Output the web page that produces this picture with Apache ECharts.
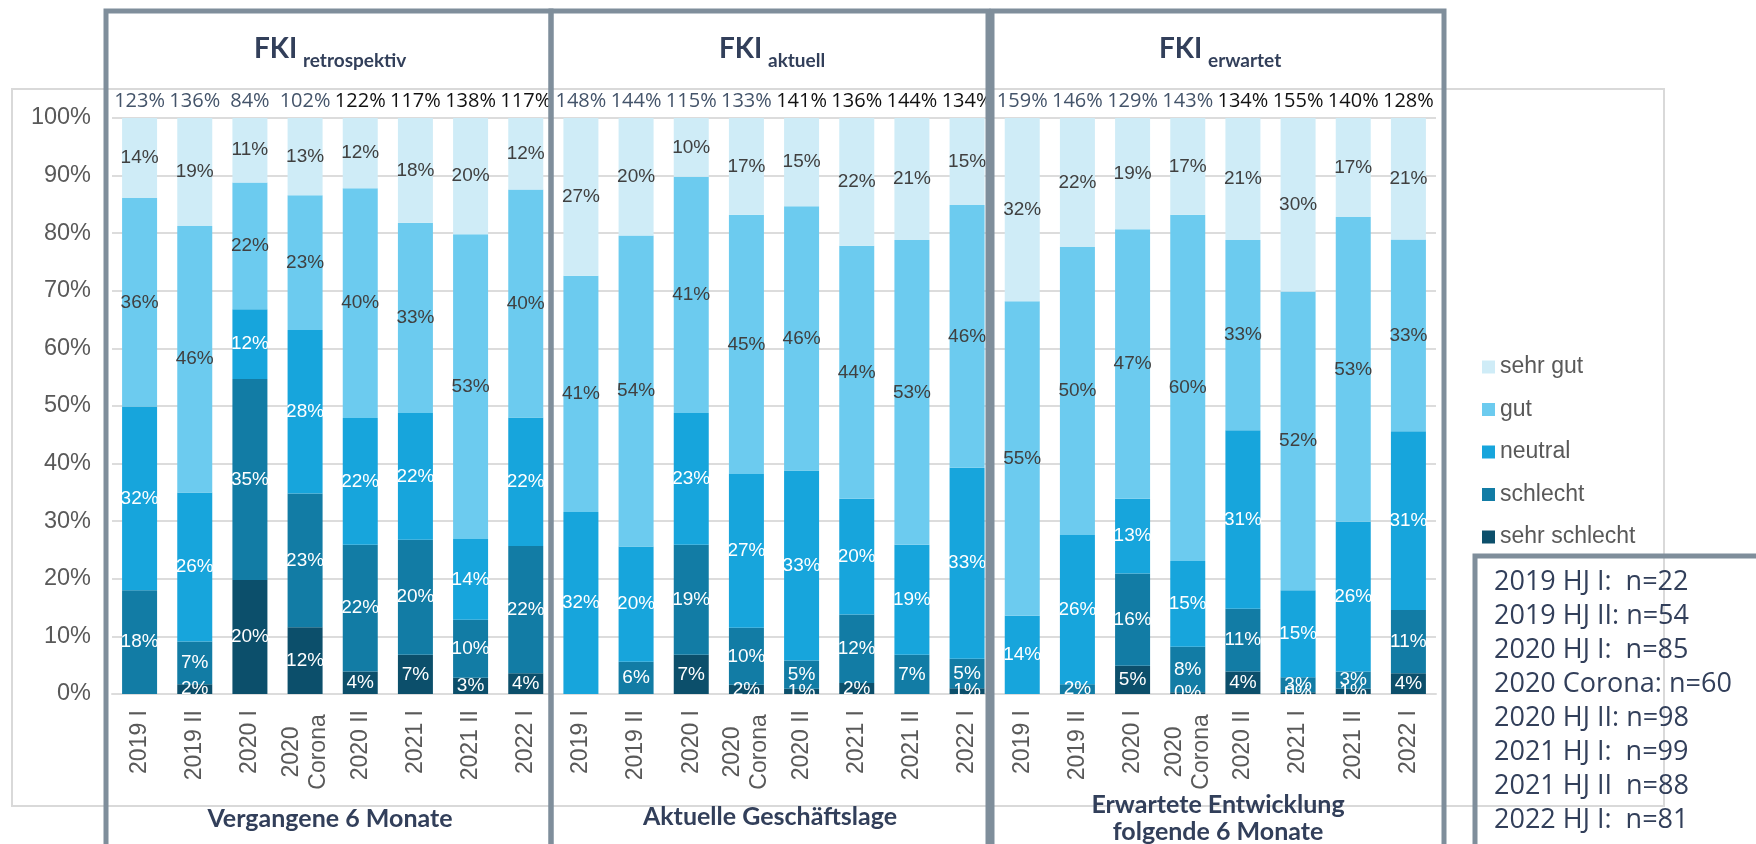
<!DOCTYPE html>
<html>
<head>
<meta charset="utf-8">
<script src="https://cdn.jsdelivr.net/npm/echarts/dist/echarts.min.js"></script>
<style>
  html, body { margin: 0; padding: 0; background: #fff; }
  #chart { width: 1756px; height: 844px; }
</style>
</head>
<body>
<div id="chart"></div>
<script>
// periods, repeated for each of the three panels
const periods = ['2019 I', '2019 II', '2020 I', '2020\nCorona', '2020 II', '2021 I', '2021 II', '2022 I']
const categories = [...periods, ...periods, ...periods]

// shares per answer (retrospektiv | aktuell | erwartet), percent
const sehrSchlecht = [0, 1.7, 19.8, 11.6, 3.9, 6.8, 2.8, 3.6,
  0, 0, 6.8, 1.6, 0.9, 1.9, 0, 1.0,
  0, 0, 4.9, 0.3, 3.9, 0.3, 0.9, 3.6]
const schlecht = [18.0, 7.4, 34.9, 23.2, 22.0, 20.0, 10.1, 22.1,
  0, 5.6, 19.1, 9.9, 4.9, 11.9, 6.8, 5.1,
  0, 1.7, 16.0, 7.9, 10.9, 2.6, 3.0, 11.0]
const neutral = [31.9, 25.9, 12.1, 28.4, 22.0, 22.0, 14.0, 22.3,
  31.6, 20.0, 22.9, 26.7, 33.0, 20.1, 19.1, 33.2,
  13.6, 25.9, 13.0, 14.9, 31.0, 15.1, 26.0, 31.0]
const gut = [36.2, 46.25, 22.0, 23.4, 39.9, 33.0, 52.9, 39.6,
  41.0, 54.0, 41.0, 45.0, 45.9, 43.9, 52.9, 45.6,
  54.6, 50.0, 46.8, 60.1, 33.0, 51.9, 52.9, 33.3]
const sehrGut = [13.9, 18.75, 11.2, 13.4, 12.2, 18.2, 20.2, 12.4,
  27.4, 20.4, 10.2, 16.8, 15.3, 22.2, 21.2, 15.1,
  31.8, 22.4, 19.3, 16.8, 21.2, 30.1, 17.2, 21.1]

// FKI index values shown above the bars
const totalsRetro = [123, 136, 84, 102, 122, 117, 138, 117]
const totalsAktuell = [148, 144, 115, 133, 141, 136, 144, 134]
const totalsErwartet = [159, 146, 129, 143, 134, 155, 140, 128]
const totals = [...totalsRetro, ...totalsAktuell, ...totalsErwartet]

const yTicks = [0, 10, 20, 30, 40, 50, 60, 70, 80, 90, 100]

const sampleLines = [
  '2019 HJ I:  n=22',
  '2019 HJ II: n=54',
  '2020 HJ I:  n=85',
  '2020 Corona: n=60',
  '2020 HJ II: n=98',
  '2021 HJ I:  n=99',
  '2021 HJ II  n=88',
  '2022 HJ I:  n=81'
]

const FONT = '"Liberation Sans", Arial, sans-serif'
const HEAD = 'Lato, "Open Sans", sans-serif'
const SLATE = '#323f5a'
const GRID = '#dcdcdc'
const FRAME = '#7f8e9b'

function segLabel(color) {
  return {
    show: true,
    position: 'inside',
    color: color,
    fontFamily: FONT,
    fontSize: 19,
    formatter: p => (p.value > 0 ? Math.round(p.value) + '%' : '')
  }
}

function barSeries(name, data, color, labelColor) {
  return {
    name: name,
    type: 'bar',
    stack: 'fki',
    barWidth: 35,
    data: data,
    itemStyle: { color: color },
    label: segLabel(labelColor)
  }
}

const chart = echarts.init(document.getElementById('chart'))

chart.setOption({
  animation: false,
  backgroundColor: '#fff',
  grid: { left: 112, right: 320, top: 118, bottom: 150 },
  legend: {
    orient: 'vertical',
    left: 1477,
    top: 350,
    icon: 'rect',
    itemWidth: 13,
    itemHeight: 13,
    itemGap: 18.5,
    data: ['sehr gut', 'gut', 'neutral', 'schlecht', 'sehr schlecht'],
    textStyle: { color: '#595959', fontFamily: FONT, fontSize: 23, lineHeight: 24 }
  },
  xAxis: [
    {
      type: 'category',
      data: categories,
      axisLine: { lineStyle: { color: GRID, width: 2 } },
      axisTick: { show: false },
      axisLabel: {
        rotate: 90,
        margin: 16,
        color: '#595959',
        fontFamily: FONT,
        fontSize: 23,
        lineHeight: 27,
        interval: 0,
        formatter: v => {
          if (v.indexOf('\n') < 0) return v
          return v.split('\n').map(s => '{c|' + s + '}').join('\n')
        },
        rich: {
          c: { width: 84, align: 'center', color: '#595959', fontFamily: FONT, fontSize: 23, lineHeight: 27 }
        }
      }
    },
    {
      type: 'category',
      position: 'top',
      data: totals,
      axisLine: { show: false },
      axisTick: { show: false },
      axisLabel: {
        margin: 7,
        interval: 0,
        formatter: (v, i) => ((i % 8) < 4 ? '{s|' + v + '%}' : '{k|' + v + '%}'),
        rich: {
          s: { color: '#44546a', fontFamily: '"Open Sans", sans-serif', fontSize: 20 },
          k: { color: '#111111', fontFamily: '"Open Sans", sans-serif', fontSize: 20 }
        }
      }
    }
  ],
  yAxis: {
    type: 'value',
    min: yTicks[0],
    max: yTicks[yTicks.length - 1],
    interval: yTicks[1] - yTicks[0],
    axisLine: { show: false },
    axisTick: { show: false },
    axisLabel: { formatter: '{value}%', color: '#595959', fontFamily: FONT, fontSize: 23.5, margin: 21 },
    splitLine: { lineStyle: { color: GRID, width: 2 } }
  },
  series: [
    barSeries('sehr schlecht', sehrSchlecht, '#0c4f6b', '#ffffff'),
    barSeries('schlecht', schlecht, '#127ca5', '#ffffff'),
    barSeries('neutral', neutral, '#17a5dc', '#ffffff'),
    barSeries('gut', gut, '#6ccbef', '#404040'),
    barSeries('sehr gut', sehrGut, '#cfecf7', '#404040')
  ],
  graphic: [
    // light outer chart frame
    { type: 'rect', z: 0, shape: { x: 12, y: 89, width: 1652, height: 717 },
      style: { fill: 'none', stroke: '#d9d9d9', lineWidth: 2 } },
    // panel frames
    { type: 'rect', z: 100, shape: { x: 106, y: 11, width: 445, height: 900 },
      style: { fill: 'none', stroke: FRAME, lineWidth: 5 } },
    { type: 'rect', z: 100, shape: { x: 551, y: 11, width: 437, height: 900 },
      style: { fill: 'none', stroke: FRAME, lineWidth: 5 } },
    { type: 'rect', z: 100, shape: { x: 992, y: 11, width: 452, height: 900 },
      style: { fill: 'none', stroke: FRAME, lineWidth: 5 } },
    // sample size box
    { type: 'rect', z: 100, shape: { x: 1475, y: 556, width: 400, height: 400 },
      style: { fill: 'none', stroke: FRAME, lineWidth: 5 } },
    { type: 'text', z: 101, left: 1494, top: 565,
      style: { text: sampleLines.join('\n'), fill: SLATE, font: '27px "Open Sans", sans-serif', lineHeight: 34 } },
    // panel titles
    { type: 'text', z: 101, x: 254, y: 49,
      style: { text: 'FKI', fill: SLATE, font: 'bold 28px ' + HEAD, verticalAlign: 'middle' } },
    { type: 'text', z: 101, x: 303, y: 61,
      style: { text: 'retrospektiv', fill: SLATE, font: 'bold 19px ' + HEAD, verticalAlign: 'middle' } },
    { type: 'text', z: 101, x: 719, y: 49,
      style: { text: 'FKI', fill: SLATE, font: 'bold 28px ' + HEAD, verticalAlign: 'middle' } },
    { type: 'text', z: 101, x: 768, y: 61,
      style: { text: 'aktuell', fill: SLATE, font: 'bold 19px ' + HEAD, verticalAlign: 'middle' } },
    { type: 'text', z: 101, x: 1159, y: 49,
      style: { text: 'FKI', fill: SLATE, font: 'bold 28px ' + HEAD, verticalAlign: 'middle' } },
    { type: 'text', z: 101, x: 1208, y: 61,
      style: { text: 'erwartet', fill: SLATE, font: 'bold 19px ' + HEAD, verticalAlign: 'middle' } },
    // panel captions
    { type: 'text', z: 101, x: 330, y: 819,
      style: { text: 'Vergangene 6 Monate', fill: SLATE, font: 'bold 25px ' + HEAD, align: 'center', verticalAlign: 'middle' } },
    { type: 'text', z: 101, x: 770, y: 817,
      style: { text: 'Aktuelle Geschäftslage', fill: SLATE, font: 'bold 25px ' + HEAD, align: 'center', verticalAlign: 'middle' } },
    { type: 'text', z: 101, x: 1218, y: 818,
      style: { text: 'Erwartete Entwicklung\nfolgende 6 Monate', fill: SLATE, font: 'bold 25px ' + HEAD, lineHeight: 27, align: 'center', verticalAlign: 'middle' } }
  ]
})
</script>
</body>
</html>
